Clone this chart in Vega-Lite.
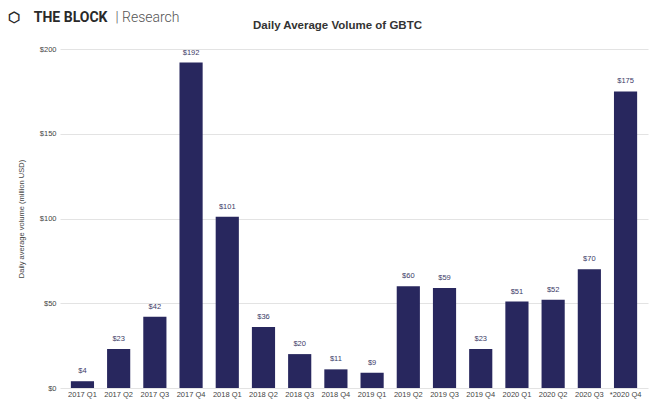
{
  "$schema": "https://vega.github.io/schema/vega-lite/v6.json",
  "width": 588,
  "height": 339,
  "autosize": {"type": "none"},
  "padding": {"left": 60, "top": 49, "right": 4, "bottom": 13},
  "background": "white",
  "config": {
    "view": {"stroke": null},
    "axis": {"labelFont": "Liberation Sans", "titleFont": "Liberation Sans"}
  },
  "data": {
    "values": [
      {"quarter": "2017 Q1", "volume": 4},
      {"quarter": "2017 Q2", "volume": 23},
      {"quarter": "2017 Q3", "volume": 42},
      {"quarter": "2017 Q4", "volume": 192},
      {"quarter": "2018 Q1", "volume": 101},
      {"quarter": "2018 Q2", "volume": 36},
      {"quarter": "2018 Q3", "volume": 20},
      {"quarter": "2018 Q4", "volume": 11},
      {"quarter": "2019 Q1", "volume": 9},
      {"quarter": "2019 Q2", "volume": 60},
      {"quarter": "2019 Q3", "volume": 59},
      {"quarter": "2019 Q4", "volume": 23},
      {"quarter": "2020 Q1", "volume": 51},
      {"quarter": "2020 Q2", "volume": 52},
      {"quarter": "2020 Q3", "volume": 70},
      {"quarter": "*2020 Q4", "volume": 175}
    ]
  },
  "resolve": {"axis": {"x": "independent", "y": "independent"}},
  "layer": [
    {
      "mark": {"type": "bar", "color": "#28275e"},
      "encoding": {
        "x": {
          "field": "quarter",
          "type": "nominal",
          "sort": null,
          "scale": {"paddingInner": 0.36, "paddingOuter": 0.3},
          "axis": {
            "title": "Daily Average Volume of GBTC",
            "titleFont": "Liberation Sans",
            "titleFontSize": 11.5,
            "titleFontWeight": "bold",
            "titleColor": "#333333",
            "titleX": 277,
            "titleY": -363,
            "titleAlign": "center",
            "titleBaseline": "middle",
            "labelAngle": 0,
            "labelFontSize": 7.5,
            "labelColor": "#444444",
            "labelPadding": 2,
            "ticks": false,
            "domain": false
          }
        },
        "y": {
          "field": "volume",
          "type": "quantitative",
          "scale": {"domain": [0, 200]},
          "axis": {
            "title": "Daily average volume (million USD)",
            "titleFontSize": 7.5,
            "titleFontWeight": "normal",
            "titleColor": "#444444",
            "titlePadding": 14,
            "values": [0, 50, 100, 150, 200],
            "format": "$,.0f",
            "labelFontSize": 7.5,
            "labelColor": "#444444",
            "labelPadding": 4,
            "ticks": false,
            "domain": false,
            "gridColor": "#e3e3e3",
            "gridWidth": 1
          }
        }
      }
    },
    {
      "mark": {"type": "text", "baseline": "bottom", "dy": -6, "fontSize": 7.5, "font": "Liberation Sans", "color": "#3b3a66"},
      "encoding": {
        "x": {
          "field": "quarter",
          "type": "nominal",
          "sort": null,
          "axis": {
            "orient": "top",
            "title": "\u2b21\u2003THE BLOCK",
            "titleFontSize": 14,
            "titleFontWeight": "bold",
            "titleFont": "Roboto",
            "titleColor": "#2a2a2a",
            "titleX": -53,
            "titleY": -32,
            "titleAnchor": "start",
            "titleAlign": "left",
            "titleBaseline": "middle",
            "labels": false,
            "ticks": false,
            "domain": false,
            "grid": false
          }
        },
        "y": {
          "field": "volume",
          "type": "quantitative",
          "axis": {
            "orient": "right",
            "title": "|  Research",
            "titleAngle": 0,
            "titleFontSize": 14,
            "titleFontWeight": 300,
            "titleFont": "Roboto",
            "titleColor": "#555555",
            "titleX": -533,
            "titleY": -32,
            "titleAlign": "left",
            "titleBaseline": "middle",
            "labels": false,
            "ticks": false,
            "domain": false,
            "grid": false
          }
        },
        "text": {"field": "volume", "type": "quantitative", "format": "$,.0f"}
      }
    }
  ]
}
